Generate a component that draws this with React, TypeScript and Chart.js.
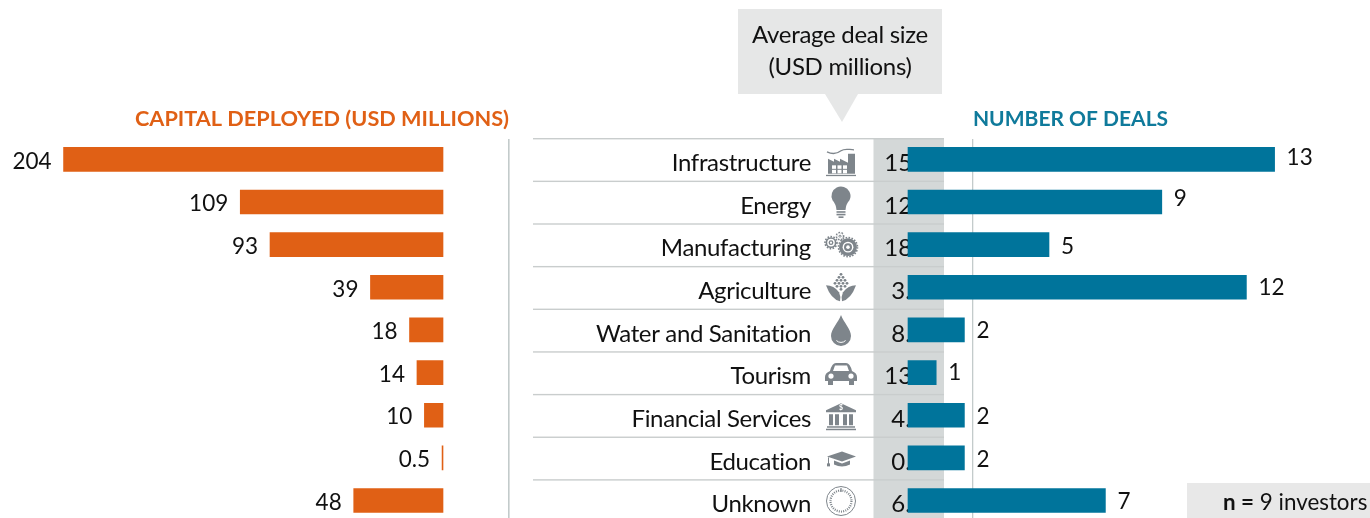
import React, { useEffect, useRef } from "react";
import { Chart, registerables } from "chart.js";

Chart.register(...registerables);

const categories = ["Infrastructure", "Energy", "Manufacturing", "Agriculture", "Water and Sanitation", "Tourism", "Financial Services", "Education", "Unknown"];
const capitalDeployed = [204, 109, 93, 39, 18, 14, 10, 0.5, 48];
const numberOfDeals = [13, 9, 5, 12, 2, 1, 2, 2, 7];
const averageDealSize = ["15.7", "12.1", "18.6", "3.3", "8.8", "13.6", "4.6", "0.3", "6.9"];

const ORANGE = "#e06015";
const TEAL = "#00749b";
const ICON = "#7e858b";
const INK = "#111";
const FONT = "Lato, sans-serif";
const W = 1370;
const H = 530;
const ZERO_L = 443;
const PX_L = 1.86;
const ZERO_R = 908;
const PX_R = 28.2;

type C = CanvasRenderingContext2D;

function poly(c: C, pts: number[][], fill = ICON) {
  c.fillStyle = fill;
  c.beginPath();
  pts.forEach((p, i) => (i ? c.lineTo(p[0], p[1]) : c.moveTo(p[0], p[1])));
  c.closePath();
  c.fill();
}
function disc(c: C, x: number, y: number, r: number, fill = ICON) {
  c.fillStyle = fill;
  c.beginPath();
  c.arc(x, y, r, 0, Math.PI * 2);
  c.fill();
}
function gear(c: C, x: number, y: number, r: number, hole: number) {
  c.strokeStyle = ICON;
  c.lineWidth = 1.6;
  c.setLineDash([1.6, 1.4]);
  c.beginPath();
  c.arc(x, y, r, 0, Math.PI * 2);
  c.stroke();
  c.setLineDash([]);
  disc(c, x, y, r - 0.6);
  disc(c, x, y, hole + 1.4, "#fff");
  disc(c, x, y, hole);
  disc(c, x, y, hole * 0.45, "#fff");
}

const icons: ((c: C) => void)[] = [
  (c) => {
    c.strokeStyle = ICON;
    c.lineWidth = 1.3;
    c.beginPath();
    c.moveTo(-14, -10);
    c.bezierCurveTo(-8, -7, -4, -8, 0, -11);
    c.bezierCurveTo(4, -14, 8, -12, 13, -12);
    c.stroke();
    poly(c, [[-13, -3], [-7, 0], [-7, -3], [-1, 0], [-1, -3], [7, 1], [7, -8], [14, -8], [14, 12], [-13, 12]]);
    c.fillStyle = "#fff";
    for (let r = 0; r < 2; r++) for (let k = 0; k < 3; k++) c.fillRect(-9 + k * 5.5, 3.5 + r * 4.5, 4, 3.5);
    c.fillStyle = ICON;
    c.fillRect(-15, 13, 30, 1.3);
  },
  (c) => {
    c.fillStyle = ICON;
    c.beginPath();
    c.arc(0, -6, 9.5, Math.PI * 0.85, Math.PI * 0.15);
    c.quadraticCurveTo(5, 2, 4.5, 8);
    c.lineTo(-4.5, 8);
    c.quadraticCurveTo(-5, 2, -8.7, -2);
    c.closePath();
    c.fill();
    c.fillRect(-4.5, 9.2, 9, 1.6);
    c.fillRect(-4.5, 11.8, 9, 1.6);
    c.fillRect(-2.5, 14.4, 5, 1.6);
  },
  (c) => {
    gear(c, 7, 2.5, 9.5, 4);
    gear(c, -10, -2, 6, 2.4);
    gear(c, -1, -8.5, 3.6, 1.4);
  },
  (c) => {
    c.fillStyle = ICON;
    c.beginPath();
    c.moveTo(-15, -3);
    c.quadraticCurveTo(-7, -3, -2, 4);
    c.quadraticCurveTo(0, 8, -1, 13);
    c.quadraticCurveTo(-10, 11, -15, -3);
    c.fill();
    c.beginPath();
    c.moveTo(15, -3);
    c.quadraticCurveTo(7, -3, 2, 4);
    c.quadraticCurveTo(0, 8, 1, 13);
    c.quadraticCurveTo(10, 11, 15, -3);
    c.fill();
    [[0, -14], [-2, -11], [2, -11], [-4, -8], [0, -8], [4, -8], [-6, -5], [-2, -5], [2, -5], [6, -5], [-4, -2], [0, -2], [4, -2], [0, 1]].forEach((p) => disc(c, p[0], p[1], 1.4));
  },
  (c) => {
    c.fillStyle = ICON;
    c.beginPath();
    c.moveTo(0, -16);
    c.bezierCurveTo(3, -8, 10, -2, 10, 5);
    c.arc(0, 5, 10, 0, Math.PI);
    c.bezierCurveTo(-10, -2, -3, -8, 0, -16);
    c.fill();
    c.strokeStyle = "#fff";
    c.lineWidth = 1;
    c.beginPath();
    c.arc(0, 5, 6.5, Math.PI * 0.75, Math.PI * 0.25, true);
    c.stroke();
  },
  (c) => {
    c.fillStyle = ICON;
    c.beginPath();
    c.moveTo(-11, -3);
    c.quadraticCurveTo(-9, -11, -5, -11);
    c.lineTo(5, -11);
    c.quadraticCurveTo(9, -11, 11, -3);
    c.quadraticCurveTo(16, -1, 16, 3);
    c.lineTo(16, 7);
    c.lineTo(13, 7);
    c.lineTo(13, 11);
    c.lineTo(8, 11);
    c.lineTo(8, 7);
    c.lineTo(-8, 7);
    c.lineTo(-8, 11);
    c.lineTo(-13, 11);
    c.lineTo(-13, 7);
    c.lineTo(-16, 7);
    c.lineTo(-16, 3);
    c.quadraticCurveTo(-16, -1, -11, -3);
    c.fill();
    poly(c, [[-8, -3], [-6, -8.5], [6, -8.5], [8, -3]], "#fff");
    disc(c, -10, 2, 2.6, "#fff");
    disc(c, 10, 2, 2.6, "#fff");
  },
  (c) => {
    poly(c, [[0, -13], [15, -6], [15, -4], [-15, -4], [-15, -6]]);
    c.fillStyle = ICON;
    [-12, -6, 2, 8].forEach((x) => c.fillRect(x, -2, 4, 11));
    c.fillRect(-14, 10, 28, 1.5);
    c.fillRect(-15, 12.5, 30, 1.5);
    c.fillStyle = "#fff";
    c.font = `bold 7px ${FONT}`;
    c.textAlign = "center";
    c.textBaseline = "middle";
    c.fillText("$", 0, -8);
  },
  (c) => {
    poly(c, [[1, -7], [15, -2], [1, 3], [-14, -2]]);
    c.beginPath();
    c.moveTo(-7, 2);
    c.lineTo(1, 5);
    c.lineTo(9, 2);
    c.lineTo(9, 6);
    c.quadraticCurveTo(1, 10, -7, 6);
    c.closePath();
    c.fill();
    c.fillRect(-13, -1, 1, 7);
    c.fillRect(-14, 5, 3, 3);
  },
  (c) => {
    c.strokeStyle = ICON;
    c.lineWidth = 1;
    c.beginPath();
    c.arc(0, 0, 14.5, 0, Math.PI * 2);
    c.stroke();
    c.lineWidth = 2.2;
    c.setLineDash([1, 1.2]);
    c.beginPath();
    c.arc(0, 0, 10.5, 0, Math.PI * 2);
    c.stroke();
    c.setLineDash([]);
    c.lineWidth = 1.2;
    c.beginPath();
    c.moveTo(0, -13);
    c.lineTo(0, -9);
    c.stroke();
  },
];
const iconOffsets = [2.5, 0, 0, 1, 1, 1.5, 1, 0.5, 0.5];
const dealLabelNudge = [-2, -3, 2, 0, 1, 0, 2, 2, 1];

const text = (c: C, s: string, x: number, y: number, font: string, color: string, align: CanvasTextAlign = "left") => {
  c.font = font;
  c.fillStyle = color;
  c.textAlign = align;
  c.textBaseline = "middle";
  c.fillText(s, x, y);
};

const backdrop = {
  id: "backdrop",
  beforeDatasetsDraw(chart: any) {
    const c: C = chart.ctx;
    const y = chart.scales.y;
    const step = y.getPixelForValue(1) - y.getPixelForValue(0);
    c.save();
    c.fillStyle = "#d4d8d8";
    c.fillRect(873.5, 139, 70.5, 379);
    c.fillStyle = "#c3cbcb";
    c.fillRect(508, 139, 1.6, 379);
    c.fillRect(972, 139, 1.3, 379);
    categories.forEach((_, i) => {
      const sep = y.getPixelForValue(i) - step / 2 + 0.7;
      c.fillStyle = "#c9cdcd";
      c.fillRect(533, sep - 0.7, 411, 1.4);
    });
    categories.forEach((name, i) => {
      const py = y.getPixelForValue(i);
      (c as any).letterSpacing = "-0.35px";
      text(c, name, 811, py + 4, `24px ${FONT}`, INK, "right");
      (c as any).letterSpacing = "0px";
      text(c, averageDealSize[i], 908, py + 4, `24px ${FONT}`, INK, "center");
      c.save();
      c.translate(841, py + iconOffsets[i]);
      icons[i](c);
      c.restore();
    });
    c.fillStyle = "#e6e7e7";
    c.fillRect(738, 9, 204, 85);
    poly(c, [[825, 94], [858, 94], [842, 122]], "#e6e7e7");
    (c as any).letterSpacing = "-0.3px";
    text(c, "Average deal size", 840, 35, `24px ${FONT}`, INK, "center");
    text(c, "(USD millions)", 840, 67, `24px ${FONT}`, INK, "center");
    (c as any).letterSpacing = "0px";
    text(c, "CAPITAL DEPLOYED (USD MILLIONS)", 322, 119, `bold 21.7px ${FONT}`, ORANGE, "center");
    text(c, "NUMBER OF DEALS", 1070.5, 119, `bold 21px ${FONT}`, "#0f7a9b", "center");
    c.fillStyle = "#e8e8e8";
    c.fillRect(1187, 483, 183, 35);
    const lead = "n =";
    text(c, lead, 1223, 503, `bold 22.4px ${FONT}`, INK);
    const w = c.measureText(lead).width;
    text(c, " 9 investors", 1223 + w, 503, `22.4px ${FONT}`, INK);
    c.restore();
  },
  afterDatasetsDraw(chart: any) {
    const c: C = chart.ctx;
    c.save();
    chart.getDatasetMeta(0).data.forEach((bar: any, i: number) => {
      text(c, String(capitalDeployed[i]), bar.x - 12, bar.y + 2, `22.5px ${FONT}`, INK, "right");
    });
    chart.getDatasetMeta(1).data.forEach((bar: any, i: number) => {
      text(c, String(numberOfDeals[i]), bar.x + 12, bar.y + dealLabelNudge[i], `22.5px ${FONT}`, INK, "left");
    });
    c.restore();
  },
};

export default function App() {
  const ref = useRef<HTMLCanvasElement | null>(null);
  useEffect(() => {
    document.body.style.margin = "0";
    const chart = new Chart(ref.current as HTMLCanvasElement, {
      type: "bar",
      data: {
        labels: categories,
        datasets: [
          { label: "Capital deployed (USD millions)", data: capitalDeployed, xAxisID: "xL", backgroundColor: ORANGE, barThickness: 24, grouped: false },
          { label: "Number of deals", data: numberOfDeals, xAxisID: "xR", backgroundColor: TEAL, barThickness: 24, grouped: false },
        ],
      } as any,
      options: {
        indexAxis: "y",
        animation: false,
        responsive: false,
        layout: { padding: { top: 138, bottom: H - 138 - 9 * 42.65, left: 0, right: 0 } },
        plugins: { legend: { display: false }, tooltip: { enabled: false } },
        scales: {
          y: { type: "category", display: false },
          xL: { type: "linear", display: false, reverse: true, min: -(W - ZERO_L) / PX_L, max: ZERO_L / PX_L },
          xR: { type: "linear", display: false, min: -ZERO_R / PX_R, max: (W - ZERO_R) / PX_R },
        },
      } as any,
      plugins: [backdrop],
    });
    return () => chart.destroy();
  }, []);
  return (
    <div style={{ width: W, height: 518, overflow: "hidden", position: "relative", background: "#fff" }}>
      <canvas ref={ref} width={W} height={H} style={{ display: "block", width: W, height: H }} />
    </div>
  );
}
